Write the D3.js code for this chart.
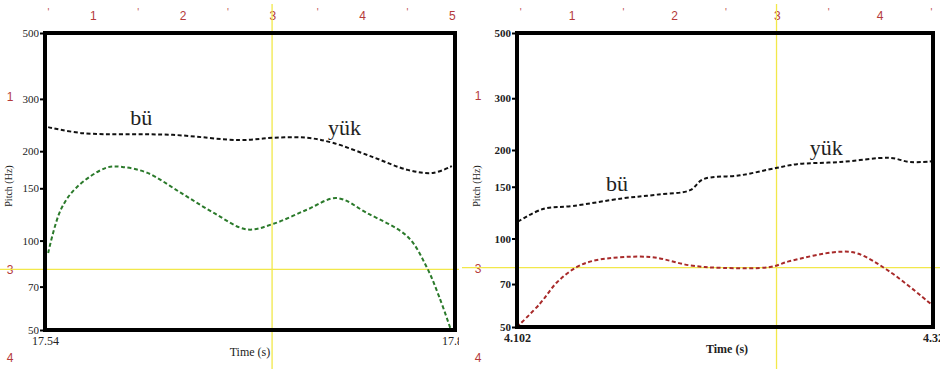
<!DOCTYPE html>
<html><head><meta charset="utf-8">
<script src="https://cdn.jsdelivr.net/npm/d3@7"></script>
<style>
body{margin:0;background:#fff;}
svg{display:block;}
</style></head>
<body><svg id="c" width="940" height="369"></svg>
<script>
// ---- data ----
const yTicks = [50, 70, 100, 150, 200, 300, 500];
const rulerNumbers = [1, 2, 3, 4, 5];
const sideNumbers = ["1", "3", "4"];

// left panel (17.54 - 17.8 s)
const leftTopTime = [17.542,17.564,17.621,17.664,17.685,17.706,17.723,17.748,17.770,17.786,17.798];
const leftTopHz   = [241,230,227,218,222,222,213,191,173,169,178];
const leftLowTime = [17.542,17.550,17.560,17.579,17.589,17.605,17.626,17.647,17.668,17.685,17.706,17.725,17.744,17.770,17.782,17.790,17.797];
const leftLowHz   = [90.8,127,151,176,177,169,145,124,109,114,127,139,124,103,81.5,64.6,50.8];
const leftWords = ["bü","yük"];
const leftWordTime = [17.601,17.730];
const leftWordHz = [245,226];

// right panel (4.102 - 4.32 s)
const rightTopTime = [4.1025,4.1156,4.1313,4.1575,4.1754,4.1927,4.1995,4.2189,4.2383,4.2487,4.2713,4.2975,4.3079,4.3195];
const rightTopHz   = [114,126,129,137,141,146,159,164,174,179,182,188,182,183];
const rightLowTime = [4.102,4.114,4.123,4.1334,4.1439,4.1717,4.1927,4.2100,4.2346,4.2451,4.2697,4.2802,4.2975,4.3195];
const rightLowHz   = [50,60,71,80,84.5,86.5,81,79.4,80,83.8,90,89,77,59.4];
const rightWords = ["bü","yük"];
const rightWordTime = [4.1544,4.264];
const rightWordHz = [145,193];

const panels = [
  {x0:45, x1:455, y0:33, y1:330, t0:17.54, t1:17.8, tLabels:["17.54","17.80"],
   top:[leftTopTime,leftTopHz], low:[leftLowTime,leftLowHz], lowColor:"#2b7a2b",
   words:[leftWords,leftWordTime,leftWordHz], cursorT:17.684, cursorHz:80,
   rulerStart:3.5, rulerStep:89.75, rulerMax:5, clipRight:459, sideX:10, bold:false, titleX:12, timeX:250, timeY:356},
  {x0:517, x1:933, y0:33, y1:327, t0:4.102, t1:4.32, tLabels:["4.102","4.32"],
   top:[rightTopTime,rightTopHz], low:[rightLowTime,rightLowHz], lowColor:"#a82a2a",
   words:[rightWords,rightWordTime,rightWordHz], cursorT:4.238, cursorHz:79.6,
   rulerStart:469.3, rulerStep:102.7, rulerMax:4, clipRight:940, sideX:478, bold:true, titleX:480, timeX:727, timeY:353}
];

const svg = d3.select("#c");
const defs = svg.append("defs");

panels.forEach((p, i) => {
  const clipId = "clip" + i;
  const clipL = i === 0 ? 0 : 462;
  defs.append("clipPath").attr("id", clipId).append("rect")
    .attr("x", clipL).attr("y", 0).attr("width", p.clipRight - clipL).attr("height", 369);
  const g = svg.append("g").attr("clip-path", `url(#${clipId})`);

  const x = d3.scaleLinear().domain([p.t0, p.t1]).range([p.x0, p.x1]);
  const y = d3.scaleLog().domain([50, 500]).range([p.y1, p.y0]);
  const fw = p.bold ? "bold" : "normal";

  // ruler at top
  const ruler = d3.scaleLinear().domain([0, 1]).range([p.rulerStart, p.rulerStart + p.rulerStep]);
  const tickPos = rulerNumbers.filter(n => n <= p.rulerMax).map(n => n - 0.5);
  if (p.rulerMax === 4) tickPos.push(4.5);
  rulerNumbers.filter(n => n <= p.rulerMax).forEach(n => {
    g.append("text").attr("x", ruler(n)).attr("y", 20).attr("text-anchor", "middle")
      .attr("font-family", "Liberation Sans, Arial, sans-serif").attr("font-size", 12)
      .attr("fill", "#b53a3a").text(n);
  });
  tickPos.forEach(v => {
    g.append("text").attr("x", ruler(v)).attr("y", 16).attr("text-anchor", "middle")
      .attr("font-family", "Liberation Sans, Arial, sans-serif").attr("font-size", 10)
      .attr("fill", "#c05050").text("'");
  });

  // side numbers
  const sideY = [y(300) - 3, y(p.cursorHz), 357];
  sideNumbers.forEach((s, k) => {
    g.append("text").attr("x", p.sideX).attr("y", sideY[k] + 5).attr("text-anchor", "middle")
      .attr("font-family", "Liberation Sans, Arial, sans-serif").attr("font-size", 12)
      .attr("fill", "#b53a3a").text(s);
  });

  // yellow cursors
  g.append("line").attr("x1", x(p.cursorT)).attr("x2", x(p.cursorT)).attr("y1", 4).attr("y2", 369)
    .attr("stroke", "#f2e84a").attr("stroke-width", 1.3);
  g.append("line").attr("x1", clipL).attr("x2", p.clipRight).attr("y1", y(p.cursorHz)).attr("y2", y(p.cursorHz))
    .attr("stroke", "#f2e84a").attr("stroke-width", 1.3);

  // curves
  const line = d3.line().x(d => x(d[0])).y(d => y(d[1])).curve(d3.curveCatmullRom.alpha(0.5));
  const topData = p.top[0].map((t, k) => [t, p.top[1][k]]);
  const lowData = p.low[0].map((t, k) => [t, p.low[1][k]]);
  g.append("path").attr("d", line(topData)).attr("fill", "none").attr("stroke", "#111")
    .attr("stroke-width", 2).attr("stroke-dasharray", "4,2.5");
  g.append("path").attr("d", line(lowData)).attr("fill", "none").attr("stroke", p.lowColor)
    .attr("stroke-width", 2).attr("stroke-dasharray", "4,2.5");

  // words
  p.words[0].forEach((w, k) => {
    g.append("text").attr("x", x(p.words[1][k])).attr("y", y(p.words[2][k]))
      .attr("text-anchor", "middle").attr("font-family", "Liberation Serif, Times New Roman, serif")
      .attr("font-size", 22).attr("fill", "#222").text(w);
  });

  // frame
  g.append("rect").attr("x", p.x0).attr("y", p.y0).attr("width", p.x1 - p.x0).attr("height", p.y1 - p.y0)
    .attr("fill", "none").attr("stroke", "#000").attr("stroke-width", 4);

  // y axis
  const yAxis = d3.axisLeft(y).tickValues(yTicks).tickFormat(d3.format("d")).tickSize(3).tickPadding(1);
  const ya = g.append("g").attr("transform", `translate(${p.x0 - 2},0)`).call(yAxis);
  ya.select(".domain").remove();
  ya.selectAll("line").attr("stroke", "#000").attr("stroke-width", 2);
  ya.selectAll("text").attr("font-family", "Liberation Serif, Times New Roman, serif")
    .attr("font-size", 11).attr("font-weight", fw).attr("fill", "#222");

  // x labels
  const xa = d3.axisBottom(x).tickValues([p.t0, p.t1]).tickFormat((d, k) => p.tLabels[k]).tickSize(0).tickPadding(5);
  const xg = g.append("g").attr("transform", `translate(0,${p.y1 + 1})`).call(xa);
  xg.select(".domain").remove();
  xg.selectAll("text").attr("font-family", "Liberation Serif, Times New Roman, serif")
    .attr("font-size", 12).attr("font-weight", fw).attr("fill", "#222");

  // axis titles
  g.append("text").attr("x", p.timeX).attr("y", p.timeY).attr("text-anchor", "middle")
    .attr("font-family", "Liberation Serif, Times New Roman, serif").attr("font-size", 12)
    .attr("font-weight", fw).attr("fill", "#222").text("Time (s)");
  g.append("text").attr("transform", `translate(${p.titleX},${186}) rotate(-90)`).attr("text-anchor", "middle")
    .attr("font-family", "Liberation Serif, Times New Roman, serif").attr("font-size", 10)
    .attr("fill", "#222").text("Pitch (Hz)");
});
</script></body></html>
